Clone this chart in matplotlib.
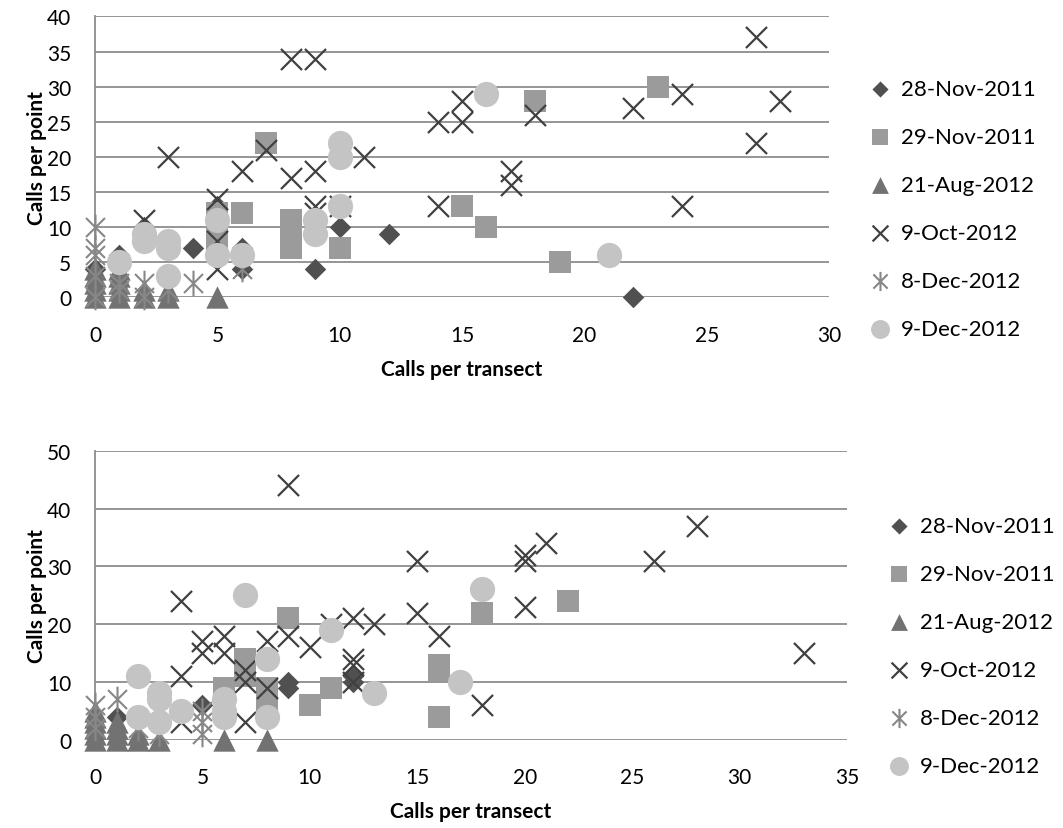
import matplotlib.pyplot as plt
from matplotlib.path import Path

plt.rcParams['font.family'] = ['Lato', 'DejaVu Sans']

# series names
dates = ['28-Nov-2011', '29-Nov-2011', '21-Aug-2012', '9-Oct-2012', '8-Dec-2012', '9-Dec-2012']

# top chart (calls per transect, calls per point)
top_x = [
    [0, 1, 2, 4, 5, 6, 6, 9, 10, 12, 22],
    [5, 5, 5, 6, 7, 8, 8, 8, 10, 15, 16, 18, 19, 23],
    [0, 0, 0, 0, 0, 1, 1, 1, 1, 1, 2, 2, 3, 3, 5],
    [2, 3, 5, 5, 5, 6, 7, 8, 8, 9, 9, 9, 9, 10, 11, 14, 14, 15, 15, 17, 17, 18, 22, 24, 24, 27, 27, 28],
    [0, 0, 0, 0, 0, 1, 1, 2, 2, 3, 4, 6],
    [1, 2, 2, 3, 3, 3, 5, 5, 6, 9, 9, 10, 10, 10, 16, 21],
]
top_y = [
    [4, 6, 10, 7, 13, 7, 4, 4, 10, 9, 0],
    [12, 10, 8, 12, 22, 11, 10, 7, 7, 13, 10, 28, 5, 30],
    [0, 1, 2, 3, 4, 0, 1, 2, 3, 4, 0, 1, 0, 1, 0],
    [11, 20, 14, 8, 4, 18, 21, 34, 17, 34, 18, 13, 12, 13, 20, 25, 13, 28, 25, 18, 16, 26, 27, 29, 13, 37, 22, 28],
    [10, 7, 6, 3, 0, 2, 1, 2, 0, 1, 2, 4],
    [5, 9, 8, 8, 7, 3, 11, 6, 6, 11, 9, 22, 20, 13, 29, 6],
]

# bottom chart
bot_x = [
    [1, 5, 9, 9, 12, 12],
    [6, 7, 7, 8, 8, 9, 10, 11, 16, 16, 16, 18, 22],
    [0, 0, 0, 0, 0, 0, 1, 1, 1, 1, 2, 2, 3, 6, 8],
    [4, 4, 4, 5, 5, 6, 6, 7, 7, 7, 8, 8, 9, 9, 10, 11, 12, 12, 12, 12, 13, 15, 15, 16, 18, 20, 20, 20, 21, 26, 28, 33],
    [0, 0, 0, 1, 2, 3, 5, 5, 5],
    [2, 2, 3, 3, 3, 4, 6, 6, 6, 7, 8, 8, 11, 13, 17, 18],
]
bot_y = [
    [4, 6, 10, 9, 11, 10],
    [9, 14, 11, 9, 6, 21, 6, 9, 13, 12, 4, 22, 24],
    [0, 1, 2, 3, 4, 5, 0, 1, 2, 3, 0, 1, 0, 0, 0],
    [24, 11, 3, 17, 15, 18, 15, 12, 10, 3, 17, 9, 44, 18, 16, 20, 21, 14, 13, 10, 20, 31, 22, 18, 6, 32, 31, 23, 34, 31, 37, 15],
    [6, 4, 2, 7, 2, 1, 5, 3, 1],
    [11, 4, 8, 7, 3, 5, 7, 5, 4, 25, 14, 4, 19, 8, 10, 26],
]

# asterisk marker: x plus vertical stroke
star = Path([(-1, -1), (1, 1), (-1, 1), (1, -1), (0, -1.35), (0, 1.35)],
            [Path.MOVETO, Path.LINETO, Path.MOVETO, Path.LINETO, Path.MOVETO, Path.LINETO])

styles = [
    dict(marker='D', s=120, c='#505050', linewidths=0),
    dict(marker='s', s=260, c='#9b9b9b', linewidths=0),
    dict(marker='^', s=260, c='#727272', linewidths=0),
    dict(marker='x', s=230, c='#404040', linewidths=1.6),
    dict(marker=star, s=340, c='#878787', linewidths=1.5),
    dict(marker='o', s=330, c='#c4c4c4', linewidths=0),
]

grid_col = '#8c8c8c'


def draw(ax, xs, ys, xmax, ymax, ystep, leg_pos):
    for i in range(len(dates)):
        ax.scatter(xs[i], ys[i], label=dates[i], zorder=3 + i, clip_on=False, **styles[i])
    ax.set_xlim(0, xmax)
    ax.set_ylim(0, ymax)
    ax.set_xticks(range(0, xmax + 1, 5))
    ax.set_yticks(range(0, ymax + 1, ystep))
    ax.yaxis.grid(True, color=grid_col, lw=1.3)
    ax.set_axisbelow(True)
    for side in ['top', 'right', 'bottom']:
        ax.spines[side].set_visible(False)
    ax.spines['left'].set_color(grid_col)
    ax.spines['left'].set_linewidth(1.3)
    ax.tick_params(axis='x', length=0, labelsize=15, pad=20)
    ax.tick_params(axis='y', length=0, labelsize=15, pad=17)
    ax.set_xlabel('Calls per transect', fontsize=15, fontweight='bold', labelpad=10)
    ax.set_ylabel('Calls per point', fontsize=15, fontweight='bold', labelpad=0)
    ax.legend(loc='upper left', bbox_to_anchor=leg_pos, bbox_transform=fig.transFigure,
              frameon=False, fontsize=16, handlelength=1.0, handletextpad=0.45,
              labelspacing=1.26, markerscale=0.75, borderaxespad=0)


fig = plt.figure(figsize=(10.63, 8.29), dpi=100)
ax1 = fig.add_axes([0.0894, 0.640, 0.6905, 0.339])
draw(ax1, top_x, top_y, 30, 40, 5, (0.8086, 0.9144))

ax2 = fig.add_axes([0.0894, 0.1065, 0.7074, 0.3485])
draw(ax2, bot_x, bot_y, 35, 50, 10, (0.8265, 0.3872))

fig.savefig('out.png', dpi=100)
